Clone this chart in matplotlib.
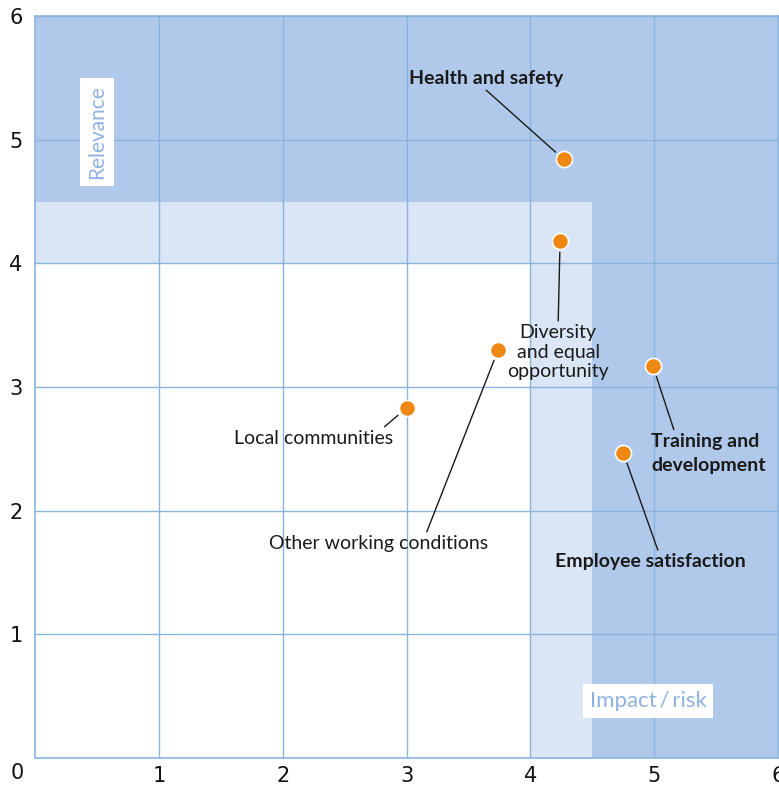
import matplotlib.pyplot as plt
from matplotlib.patches import Rectangle

# topics and their (impact, relevance) scores
topics = ["Health and safety", "Diversity\nand equal\nopportunity",
          "Other working conditions", "Training and\ndevelopment",
          "Local communities", "Employee satisfaction"]
impact = [4.27, 4.24, 3.74, 4.99, 3.00, 4.75]
relevance = [4.84, 4.18, 3.30, 3.17, 2.83, 2.47]
bold = [True, False, False, True, False, True]
ticks = [1, 2, 3, 4, 5, 6]

GRID = "#8ab4e0"
DARK = "#b0c9ea"
LIGHT = "#dae5f6"
ORANGE = "#ee8812"


def main():
    fig = plt.figure(figsize=(7.79, 7.89), dpi=100)
    ax = fig.add_axes([0.045, 0.0393, 0.9537, 0.9404])
    ax.set_xlim(0, 6)
    ax.set_ylim(0, 6)

    # materiality zones
    ax.add_patch(Rectangle((0, 4), 4.5, 0.5, color=LIGHT, zorder=0, lw=0))
    ax.add_patch(Rectangle((4, 0), 0.5, 4.5, color=LIGHT, zorder=0, lw=0))
    ax.add_patch(Rectangle((0, 4.5), 6, 1.5, color=DARK, zorder=0, lw=0))
    ax.add_patch(Rectangle((4.5, 0), 1.5, 4.5, color=DARK, zorder=0, lw=0))

    ax.set_xticks(ticks)
    ax.set_yticks(ticks)
    ax.grid(True, color=GRID, lw=1, zorder=1)
    ax.set_axisbelow(True)
    for s in ax.spines.values():
        s.set_color(GRID)
        s.set_linewidth(1.2)
    ax.tick_params(length=0, labelsize=15, colors="#111111")
    ax.tick_params(axis="x", pad=6)
    ax.tick_params(axis="y", pad=9)
    ax.text(-0.14, -0.12, "0", fontsize=15, ha="center", va="center",
            color="#111111", clip_on=False)

    ax.scatter(impact, relevance, s=135, color=ORANGE, edgecolor="white",
               linewidth=1.2, zorder=5)

    # label placement: text position, alignment, where the leader line starts
    label_pos = [(3.643, 5.497), (4.225, 3.282), (2.771, 1.738),
                 (4.976, 2.466), (2.246, 2.587), (4.968, 1.585)]
    label_ha = ["center", "center", "center", "left", "center", "center"]
    spacing = [1.2, 1.2, 1.2, 1.5, 1.2, 1.2]
    line_start = [(0.5, -0.2), (0.5, 1.05), (0.72, 1.1),
                  (0.2, 1.05), (0.94, 1.1), (0.54, 1.2)]

    for i, name in enumerate(topics):
        ax.annotate(name, xy=(impact[i], relevance[i]), xytext=label_pos[i],
                    ha=label_ha[i], va="center", multialignment=label_ha[i],
                    fontsize=14, family="Lato", color="#1a1a1a",
                    fontweight="bold" if bold[i] else "normal",
                    linespacing=spacing[i],
                    arrowprops=dict(arrowstyle="-", color="#1a1a1a", lw=1,
                                    shrinkA=0, shrinkB=8,
                                    relpos=line_start[i]),
                    zorder=6)

    ax.text(0.5, 5.06, "Relevance", rotation=90, ha="center", va="center",
            fontsize=15, family="Lato", color="#8fb3e0", zorder=4,
            bbox=dict(boxstyle="square,pad=0.35", fc="white", ec="none"))
    ax.text(4.95, 0.46, "Impact\u2009/\u2009risk", ha="center", va="center",
            fontsize=16, family="Lato", color="#8fb3e0", zorder=4,
            bbox=dict(boxstyle="square,pad=0.3", fc="white", ec="none"))

    fig.savefig("out.png", dpi=100)


if __name__ == "__main__":
    main()
